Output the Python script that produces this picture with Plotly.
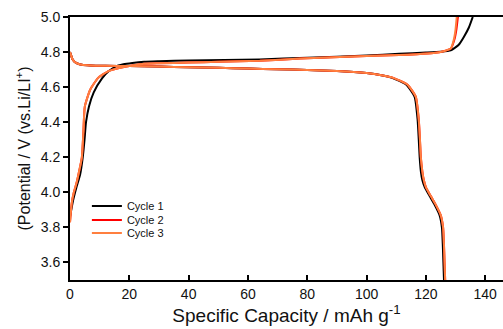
import plotly.graph_objects as go

# Cycle 1 (black)
c1_charge_cap = [0, 1.0, 2.2, 3.4, 4.3, 4.9, 5.4, 6.4, 8, 10.8, 13, 15.2, 18, 21, 25, 30, 40, 64, 80, 100, 111, 120, 125, 128.4, 131, 132.8, 134.5, 135.8]
c1_charge_v = [3.86, 3.95, 4.03, 4.1, 4.2, 4.3, 4.4, 4.49, 4.57, 4.65, 4.69, 4.716, 4.73, 4.738, 4.745, 4.748, 4.752, 4.758, 4.768, 4.78, 4.79, 4.797, 4.802, 4.81, 4.84, 4.886, 4.94, 5.0]
c1_dis_cap = [0, 0.3, 0.8, 1.5, 2.5, 4, 7, 12, 20, 30, 40, 50, 60, 70, 80, 90, 100, 105, 108.6, 113.4, 116.2, 117.2, 117.6, 117.9, 118.3, 118.8, 119.6, 121.2, 122.9, 124.6, 125.4, 125.7, 125.9, 126.0, 126.1]
c1_dis_v = [4.80, 4.785, 4.76, 4.745, 4.735, 4.728, 4.724, 4.722, 4.72, 4.717, 4.713, 4.71, 4.706, 4.702, 4.698, 4.692, 4.68, 4.668, 4.653, 4.614, 4.545, 4.415, 4.30, 4.20, 4.12, 4.07, 4.03, 3.98, 3.93, 3.87, 3.80, 3.70, 3.60, 3.55, 3.5]

# Cycle 2 (red)
c2_charge_cap = [0, 0.6, 1.3, 2.3, 3.2, 4.0, 4.5, 5.0, 6.8, 9.5, 12.8, 18.6, 25, 30, 40, 50, 64, 77.7, 100, 111, 117, 122.6, 126, 128.4, 129.6, 130.3, 130.8]
c2_charge_v = [3.83, 3.94, 4.0, 4.06, 4.13, 4.2, 4.34, 4.49, 4.585, 4.653, 4.69, 4.716, 4.733, 4.736, 4.74, 4.745, 4.75, 4.763, 4.777, 4.783, 4.788, 4.795, 4.805, 4.82, 4.87, 4.93, 5.0]
c2_dis_cap = [0, 0.3, 0.8, 1.5, 2.5, 4, 7, 12, 20, 30, 40, 50, 60, 70, 80, 90, 100, 105, 109, 113.8, 116.6, 117.6, 118.0, 118.3, 118.8, 119.3, 120.0, 121.6, 123.3, 125.0, 125.8, 126.1, 126.3, 126.4, 126.5]
c2_dis_v = [4.80, 4.785, 4.76, 4.745, 4.735, 4.728, 4.724, 4.722, 4.72, 4.717, 4.713, 4.71, 4.706, 4.702, 4.698, 4.692, 4.68, 4.668, 4.653, 4.614, 4.545, 4.415, 4.30, 4.20, 4.12, 4.07, 4.03, 3.98, 3.93, 3.87, 3.80, 3.70, 3.60, 3.55, 3.5]

# Cycle 3 (orange)
c3_charge_cap = [0, 0.6, 1.3, 2.3, 3.2, 4.0, 4.5, 5.0, 6.8, 9.5, 12.8, 18.6, 25, 30, 40, 50, 64, 77.7, 100, 111, 117, 122.6, 126, 128.4, 129.4, 130.0, 130.4]
c3_charge_v = [3.83, 3.94, 4.0, 4.06, 4.13, 4.2, 4.34, 4.49, 4.585, 4.653, 4.69, 4.716, 4.733, 4.736, 4.74, 4.745, 4.75, 4.763, 4.777, 4.783, 4.788, 4.795, 4.805, 4.82, 4.87, 4.93, 5.0]
c3_dis_cap = [0, 0.3, 0.8, 1.5, 2.5, 4, 7, 12, 20, 30, 40, 50, 60, 70, 80, 90, 100, 105, 109, 113.8, 116.6, 117.6, 118.0, 118.3, 118.8, 119.3, 120.0, 121.6, 123.3, 125.0, 125.8, 126.1, 126.3, 126.4, 126.5]
c3_dis_v = [4.80, 4.785, 4.76, 4.745, 4.735, 4.728, 4.724, 4.722, 4.72, 4.717, 4.713, 4.71, 4.706, 4.702, 4.698, 4.692, 4.68, 4.668, 4.653, 4.614, 4.545, 4.415, 4.30, 4.20, 4.12, 4.07, 4.03, 3.98, 3.93, 3.87, 3.80, 3.70, 3.60, 3.55, 3.5]

names = ["Cycle 1", "Cycle 2", "Cycle 3"]
colors = ["#000000", "#ff0000", "#ff7f3f"]
x_ticks = [0, 20, 40, 60, 80, 100, 120, 140]
y_ticks = [3.6, 3.8, 4.0, 4.2, 4.4, 4.6, 4.8, 5.0]

cycles = [
    (c1_charge_cap, c1_charge_v, c1_dis_cap, c1_dis_v),
    (c2_charge_cap, c2_charge_v, c2_dis_cap, c2_dis_v),
    (c3_charge_cap, c3_charge_v, c3_dis_cap, c3_dis_v),
]
legend_ids = ["legend", "legend2", "legend3"]

fig = go.Figure()
for (cc, cv, dc, dv), name, col, lg in zip(cycles, names, colors, legend_ids):
    fig.add_trace(go.Scatter(
        x=list(cc) + [None] + list(dc),
        y=list(cv) + [None] + list(dv),
        mode="lines", name=name, legend=lg,
        line=dict(color=col, width=2, shape="spline", smoothing=0.5),
        connectgaps=False,
    ))

font_family = "Arial, Liberation Sans, sans-serif"
leg_font = dict(size=11, family=font_family, color="#111111")
leg_common = dict(xanchor="left", yanchor="middle", font=leg_font,
                  bgcolor="rgba(0,0,0,0)", x=0.039)

fig.update_layout(
    width=503, height=329,
    margin=dict(l=70, r=0, t=17, b=49),
    paper_bgcolor="white", plot_bgcolor="white",
    font=dict(family=font_family, color="#111111"),
    showlegend=True,
    legend=dict(y=0.2814, **leg_common),
    legend2=dict(y=0.2281, **leg_common),
    legend3=dict(y=0.1787, **leg_common),
    xaxis=dict(
        range=[0, 146], tickvals=x_ticks, ticktext=[str(v) for v in x_ticks],
        ticks="inside", ticklen=5, tickwidth=2, tickcolor="black",
        showline=True, linecolor="black", linewidth=2, mirror=True,
        showgrid=False, zeroline=False,
        tickfont=dict(size=14),
        title=dict(text="Specific Capacity / mAh g<sup>-1</sup>", font=dict(size=19), standoff=1),
    ),
    yaxis=dict(
        range=[3.5, 5.0], tickvals=y_ticks, ticktext=["%.1f" % v for v in y_ticks],
        ticks="outside", ticklen=5, tickwidth=2, tickcolor="black",
        showline=True, linecolor="black", linewidth=2, mirror=False,
        showgrid=False, zeroline=False,
        tickfont=dict(size=14),
        title=dict(text="(Potential / V (vs.Li/LI<sup>+</sup>)", font=dict(size=16), standoff=6),
    ),
)

fig.write_html("out.html")
